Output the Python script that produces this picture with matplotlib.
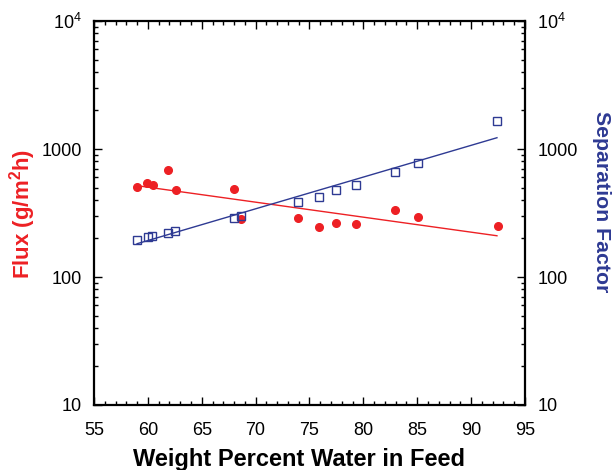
import matplotlib
matplotlib.use("Agg")
import matplotlib.pyplot as plt
from matplotlib.ticker import FixedLocator, FixedFormatter, MultipleLocator, LogLocator, NullFormatter

plt.rcParams['font.family'] = ['Liberation Sans', 'DejaVu Sans']
plt.rcParams['mathtext.fontset'] = 'custom'
plt.rcParams['mathtext.rm'] = 'Liberation Sans'
plt.rcParams['mathtext.bf'] = 'Liberation Sans:bold'

RED = '#ED2024'
BLUE = '#2E3A93'

# flux data (red circles)
flux_x = [58.96, 59.95, 60.5, 61.84, 62.58, 67.99, 68.64, 73.9, 75.88, 77.49, 79.32, 82.9, 85.1, 92.47]
flux_y = [507, 542, 526, 685, 476, 487, 282, 289, 247, 263, 259, 334, 296, 249]

# separation factor data (blue open squares)
sep_x = [58.99, 60.04, 60.41, 61.84, 62.55, 68.0, 68.64, 73.9, 75.88, 77.49, 79.32, 82.9, 85.1, 92.43]
sep_y = [196, 205, 208, 222, 230, 289, 300, 387, 424, 476, 526, 665, 773, 1664]

# trend line end points
fit_x = [59.0, 92.4]
flux_fit = [517, 210]
sep_fit = [182, 1225]

ytick_vals = [10, 100, 1000, 10000]
ytick_labels = ['10', '100', '1000', '$10^4$']

fig = plt.figure(figsize=(6.12, 4.70), dpi=100)
ax = fig.add_axes([0.1536, 0.1383, 0.7042, 0.8170])

ax.plot(fit_x, flux_fit, color=RED, lw=1.0)
ax.plot(fit_x, sep_fit, color=BLUE, lw=1.0)
ax.plot(flux_x, flux_y, 'o', color=RED, ms=5.5, mec=RED)
ax.plot(sep_x, sep_y, 's', mfc='none', mec=BLUE, ms=5.5, mew=1.0)

ax.set_yscale('log')
ax.set_xlim(55, 95)
ax.set_ylim(10, 10000)

ax.xaxis.set_major_locator(MultipleLocator(5))
ax.xaxis.set_minor_locator(MultipleLocator(1))
ax.yaxis.set_major_locator(FixedLocator(ytick_vals))
ax.yaxis.set_major_formatter(FixedFormatter(ytick_labels))
ax.yaxis.set_minor_locator(LogLocator(base=10, subs=range(2, 10)))
ax.yaxis.set_minor_formatter(NullFormatter())

ax.tick_params(which='both', direction='in', top=True, right=True, width=1.0)
ax.tick_params(which='major', length=6, labelsize=13)
ax.tick_params(axis='x', which='major', pad=12)
ax.tick_params(axis='y', which='major', pad=9)
ax.tick_params(which='minor', length=3)
ax.tick_params(axis='y', labelright=True)
for s in ax.spines.values():
    s.set_linewidth(1.6)

# axis titles placed in figure pixels
fig.text(0.5 * (135 + 463) / 612, 1 - 466 / 470, 'Weight Percent Water in Feed',
         fontsize=17, fontweight='bold', ha='center', va='baseline')
fig.text(23 / 612, 1 - 214 / 470, r'Flux (g/m$^\mathbf{2}$h)', rotation=90, fontsize=16,
         fontweight='bold', color=RED, ha='center', va='center')
fig.text(602 / 612, 1 - 202 / 470, 'Separation Factor', rotation=-90, fontsize=15.3,
         fontweight='bold', color=BLUE, ha='center', va='center')

fig.savefig('out.png', dpi=100)
